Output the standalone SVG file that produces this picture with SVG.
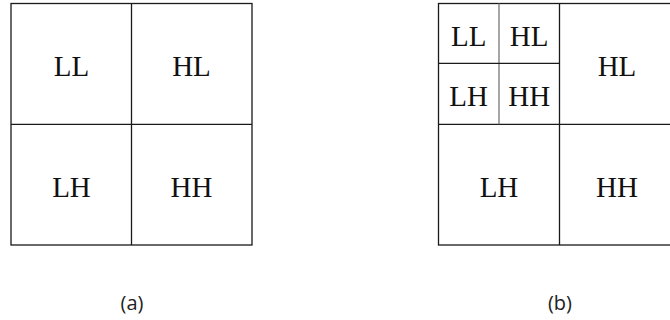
<svg xmlns="http://www.w3.org/2000/svg" width="670" height="320" viewBox="0 0 670 320">
<style>
.cell{fill:#fff;stroke:#1a1a1a;stroke-width:1.3}
.div{stroke:#1a1a1a;stroke-width:1.3;fill:none}
.sub{stroke:#777;stroke-width:1.3;fill:none}
.t{font-family:"Liberation Serif","Times New Roman",serif;font-size:29px;fill:#111;text-anchor:middle}
.cap{font-family:"Open Sans","Noto Sans",sans-serif;font-size:20px;fill:#222;text-anchor:middle}
</style>
<rect width="670" height="320" fill="#fff"/>
<g id="a">
  <rect class="cell" x="11" y="3.5" width="241" height="241.5"/>
  <g id="connectors-a">
    <line class="div" x1="131.5" y1="3.5" x2="131.5" y2="245"/>
    <line class="div" x1="11" y1="124.3" x2="252" y2="124.3"/>
  </g>
  <g id="a-LL"><text class="t" x="71.5" y="76">LL</text></g>
  <g id="a-HL"><text class="t" x="191.5" y="76">HL</text></g>
  <g id="a-LH"><text class="t" x="71.5" y="196.5">LH</text></g>
  <g id="a-HH"><text class="t" x="191.5" y="196.5">HH</text></g>
  <text class="cap" x="132" y="310">(a)</text>
</g>
<g id="b">
  <rect class="cell" x="438.5" y="3.5" width="241" height="241.5"/>
  <g id="connectors-b">
    <line class="div" x1="559.5" y1="3.5" x2="559.5" y2="245"/>
    <line class="div" x1="438.5" y1="124.3" x2="680" y2="124.3"/>
    <line class="sub" x1="499" y1="3.5" x2="499" y2="124.3"/>
    <line class="div" x1="438.5" y1="63.3" x2="559.5" y2="63.3"/>
  </g>
  <g id="b-LL2"><text class="t" x="468.7" y="46">LL</text></g>
  <g id="b-HL2"><text class="t" x="529.2" y="46">HL</text></g>
  <g id="b-LH2"><text class="t" x="468.7" y="106">LH</text></g>
  <g id="b-HH2"><text class="t" x="529.2" y="106">HH</text></g>
  <g id="b-HL"><text class="t" x="617" y="76">HL</text></g>
  <g id="b-LH"><text class="t" x="499" y="196.5">LH</text></g>
  <g id="b-HH"><text class="t" x="617" y="196.5">HH</text></g>
  <text class="cap" x="560" y="310">(b)</text>
</g>
</svg>
